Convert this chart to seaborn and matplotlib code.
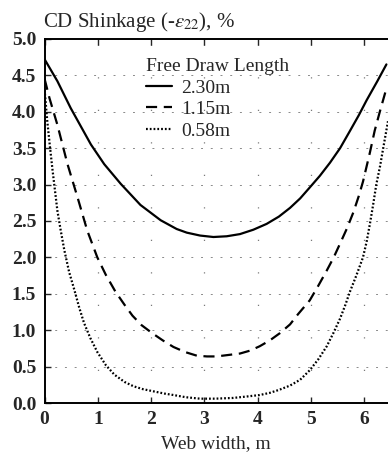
import matplotlib
matplotlib.use("Agg")
import matplotlib.pyplot as plt
import seaborn as sns
import pandas as pd

# Cross-direction shrinkage profiles across the web for three free draw lengths
x_230 = [0.0, 0.24, 0.49, 0.87, 1.12, 1.43, 1.80, 2.18, 2.48, 2.67, 2.92, 3.17, 3.42,
         3.67, 3.92, 4.17, 4.40, 4.61, 4.80, 4.98, 5.17, 5.36, 5.55, 5.73, 5.90, 6.05,
         6.25, 6.42]
y_230 = [4.72, 4.42, 4.05, 3.55, 3.28, 3.01, 2.72, 2.51, 2.39, 2.34, 2.30, 2.28, 2.29,
         2.32, 2.38, 2.46, 2.56, 2.68, 2.81, 2.96, 3.12, 3.30, 3.50, 3.73, 3.95, 4.16,
         4.42, 4.65]

x_115 = [0.0, 0.09, 0.24, 0.43, 0.62, 0.80, 0.99, 1.15, 1.33, 1.50, 1.65, 1.82, 2.02,
         2.22, 2.42, 2.64, 2.86, 3.05, 3.23, 3.45, 3.67, 3.86, 4.04, 4.23, 4.42, 4.61,
         4.76, 4.98, 5.14, 5.30, 5.43, 5.55, 5.68, 5.80, 5.90, 5.98, 6.11, 6.20, 6.30,
         6.42]
y_115 = [4.45, 4.19, 3.82, 3.28, 2.82, 2.37, 2.00, 1.76, 1.53, 1.35, 1.20, 1.07, 0.96,
         0.86, 0.77, 0.70, 0.65, 0.64, 0.64, 0.66, 0.68, 0.72, 0.78, 0.86, 0.96, 1.08,
         1.22, 1.41, 1.61, 1.82, 2.00, 2.19, 2.40, 2.62, 2.84, 3.04, 3.44, 3.74, 4.01,
         4.32]

x_058 = [0.0, 0.05, 0.10, 0.15, 0.24, 0.30, 0.37, 0.46, 0.56, 0.65, 0.74, 0.86, 0.99,
         1.15, 1.31, 1.50, 1.67, 1.85, 2.05, 2.25, 2.42, 2.65, 2.92, 3.20, 3.54, 3.80,
         4.04, 4.23, 4.40, 4.61, 4.80, 4.98, 5.14, 5.30, 5.43, 5.55, 5.65, 5.73, 5.86,
         5.98, 6.05, 6.11, 6.17, 6.23, 6.30, 6.36, 6.45]
y_058 = [4.30, 3.87, 3.52, 3.19, 2.64, 2.38, 2.10, 1.80, 1.55, 1.31, 1.10, 0.89, 0.70,
         0.52, 0.39, 0.29, 0.23, 0.19, 0.16, 0.13, 0.11, 0.08, 0.06, 0.06, 0.07, 0.09,
         0.11, 0.14, 0.18, 0.24, 0.32, 0.45, 0.60, 0.78, 0.97, 1.16, 1.35, 1.52, 1.76,
         2.00, 2.22, 2.46, 2.72, 3.00, 3.25, 3.50, 3.87]

labels = ["2.30m", "1.15m", "0.58m"]
x_ticks = [0, 1, 2, 3, 4, 5, 6]
y_ticks = [0.0, 0.5, 1.0, 1.5, 2.0, 2.5, 3.0, 3.5, 4.0, 4.5, 5.0]

sns.set_theme(style="ticks")
plt.rcParams["font.family"] = ["Liberation Serif", "DejaVu Serif"]
plt.rcParams["mathtext.fontset"] = "stix"

FS = 14

fig = plt.figure(figsize=(3.88, 4.58), dpi=100)
ax = fig.add_axes([0.115, 0.12, 0.885, 0.795])

series = [
    (x_230, y_230, "-", labels[0]),
    (x_115, y_115, (0, (5, 3)), labels[1]),
    (x_058, y_058, (0, (0.8, 0.9)), labels[2]),
]
for xs, ys, ls, lab in series:
    df = pd.DataFrame({"x": xs, "y": ys})
    sns.lineplot(data=df, x="x", y="y", ax=ax, color="black", lw=1.6,
                 linestyle=ls, sort=False, label=lab)

ax.set_xlim(0, 6.45)
ax.set_ylim(0, 5.0)
ax.set_xticks(x_ticks)
ax.set_yticks(y_ticks)
ax.set_xticklabels([str(t) for t in x_ticks], fontsize=FS, fontweight="bold")
ax.set_yticklabels([f"{t:.1f}" for t in y_ticks], fontsize=FS, fontweight="bold")
ax.tick_params(direction="in", length=4, width=1, top=True, right=False, pad=6)
for s in ["left", "bottom", "top"]:
    ax.spines[s].set_linewidth(1.4)
    ax.spines[s].set_color("black")
ax.spines["right"].set_visible(False)

# sparse dotted reference grid
for yv in y_ticks[1:-1]:
    ax.axhline(yv, color="#8a8a8a", lw=0.7, ls=(0, (2, 8)), zorder=0)
for xv in x_ticks[1:]:
    ax.axvline(xv, color="#7a7a7a", lw=0.9, ls=(0, (1, 25)), zorder=0)

ax.set_xlabel("Web width, m", fontsize=FS, labelpad=5)
ax.set_ylabel("")
fig.text(0.11, 0.953, r"CD Shinkage (-$\varepsilon_{22}$), %", fontsize=15,
         ha="left", va="center")

leg = ax.legend(title="Free Draw Length", loc="upper left",
                bbox_to_anchor=(0.255, 0.985), frameon=False, fontsize=FS,
                title_fontsize=FS, handlelength=1.35, handletextpad=0.45,
                labelspacing=0.2, borderpad=0.2)
leg._legend_box.align = "left"

fig.savefig("out.png", dpi=100)
